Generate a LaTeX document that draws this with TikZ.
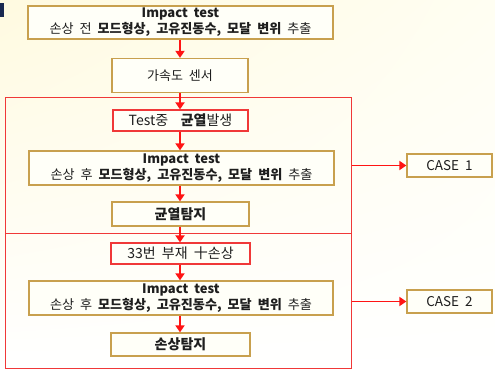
\documentclass[tikz,border=0pt]{standalone}
\usepackage{fontspec}
\setmainfont{Noto Sans CJK KR}[WordSpace=2]
\usetikzlibrary{arrows.meta,shadings}
\definecolor{gold}{RGB}{200,160,78}
\definecolor{redline}{RGB}{240,56,56}
\definecolor{arrowred}{RGB}{255,20,20}
\definecolor{navymark}{RGB}{25,40,80}
\definecolor{txt}{RGB}{30,30,30}
\definecolor{boxfill}{RGB}{255,255,248}
\definecolor{creamA}{RGB}{255,250,224}
\definecolor{creamB}{RGB}{255,254,242}
\newcommand{\lat}{\fontsize{13}{15.5}\selectfont}
\newcommand{\kor}{\fontsize{13.1}{15.5}\selectfont}
\tikzset{
  basebox/.style={fill=boxfill, text=txt, align=center, inner sep=0pt,
    font=\fontsize{14}{16}\selectfont},
  goldbox/.style={basebox, draw=gold, line width=1.3pt},
  redbox/.style={basebox, draw=redline, line width=1.2pt},
  region/.style={draw=redline, line width=1pt, inner sep=0pt},
  flow/.style={draw=arrowred, line width=1.8pt, -{Triangle[length=7pt,width=9pt]}},
}
\begin{document}
\begin{tikzpicture}[x=1pt,y=-1pt]
\useasboundingbox (0,0) rectangle (495,369);
\shade[upper left=creamA, upper right=creamB, lower left=white, lower right=white] (0,0) rectangle (495,369);
\fill[navymark] (0,3) rectangle (4,17);

\node[region, minimum width=346pt, minimum height=135.5pt] (regA) at (178.5,165.25) {};
\node[region, minimum width=346pt, minimum height=135pt] (regB) at (178.5,300.5) {};

\node[goldbox, minimum width=305pt, minimum height=33pt] (b1) at (180.5,22.5)
  {\lat\textbf{Impact test}\\\kor 손상 전 \textbf{모드형상, 고유진동수, 모달 변위} 추출};
\node[goldbox, minimum width=136pt, minimum height=34pt, font=\fontsize{13}{15}\selectfont] (b2) at (180,75.5) {가속도 센서};
\node[redbox, minimum width=135pt, minimum height=21pt] (b3) at (180.5,120.5) {Test중\ \ \textbf{균열}발생};
\node[goldbox, minimum width=305pt, minimum height=34pt] (b4) at (181.5,168)
  {\lat\textbf{Impact test}\\\kor 손상 후 \textbf{모드형상, 고유진동수, 모달 변위} 추출};
\node[goldbox, minimum width=137pt, minimum height=24pt] (b5) at (180.5,214) {\textbf{균열탐지}};
\node[redbox, minimum width=139pt, minimum height=21pt] (b6) at (180.5,253.5) {33번 부재 十손상};
\node[goldbox, minimum width=304pt, minimum height=34pt] (b7) at (181,298)
  {\lat\textbf{Impact test}\\\kor 손상 후 \textbf{모드형상, 고유진동수, 모달 변위} 추출};
\node[goldbox, minimum width=139pt, minimum height=23pt] (b8) at (180.5,344.5) {\textbf{손상탐지}};

\node[goldbox, minimum width=85pt, minimum height=23pt, font=\fontsize{13.5}{15}\selectfont] (c1) at (449.5,165.5) {CASE 1};
\node[goldbox, minimum width=85pt, minimum height=23pt, font=\fontsize{13.5}{15}\selectfont] (c2) at (449.5,301.5) {CASE 2};

\draw[flow] (b1.south -| 180,0) -- (b2.north -| 180,0);
\draw[flow] (b2.south -| 180,0) -- (b3.north -| 180,0);
\draw[flow] (b3.south -| 180,0) -- (b4.north -| 180,0);
\draw[flow] (b4.south -| 180,0) -- (b5.north -| 180,0);
\draw[flow] (b5.south -| 180,0) -- (b6.north -| 180,0);
\draw[flow] (b6.south -| 180,0) -- (b7.north -| 180,0);
\draw[flow] (b7.south -| 180,0) -- (b8.north -| 180,0);

\draw[flow] (regA.east |- c1.west) -- (c1.west);
\draw[flow] (regB.east |- c2.west) -- (c2.west);
\end{tikzpicture}
\end{document}
